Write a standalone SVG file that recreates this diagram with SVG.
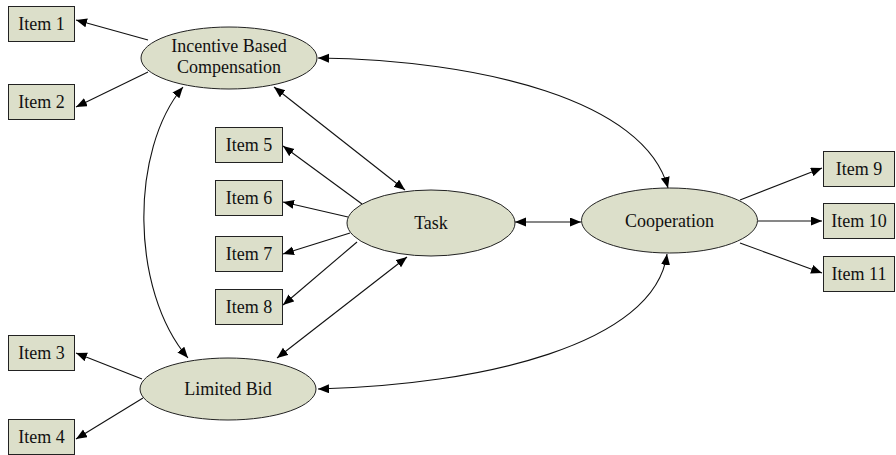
<svg xmlns="http://www.w3.org/2000/svg" width="896" height="455" viewBox="0 0 896 455">
<defs>
<style>
.box{fill:#dcdfca;stroke:#222;stroke-width:1}
.ell{fill:#dcdfca;stroke:#222;stroke-width:1}
text{font-family:"Liberation Serif","Times New Roman",serif;font-size:18px;fill:#111;text-anchor:middle}
.c{fill:none;stroke:#111;stroke-width:1.1}
</style>
<marker id="ah" markerUnits="userSpaceOnUse" markerWidth="12" markerHeight="10" refX="11" refY="4.5" orient="auto-start-reverse">
<path d="M0,0 L11,4.5 L0,9 z" fill="#000"/>
</marker>
</defs>
<rect width="896" height="455" fill="#fff"/>
<g id="connectors">
<line class="c" x1="148" y1="40" x2="76" y2="20" marker-end="url(#ah)"/>
<line class="c" x1="148" y1="72" x2="76" y2="107" marker-end="url(#ah)"/>
<path class="c" d="M318,58 C480,60 645,100 668,188" marker-start="url(#ah)" marker-end="url(#ah)"/>
<line class="c" x1="274" y1="87" x2="405" y2="190" marker-start="url(#ah)" marker-end="url(#ah)"/>
<path class="c" d="M183,87 C130,150 130,290 188,358" marker-start="url(#ah)" marker-end="url(#ah)"/>
<line class="c" x1="362" y1="204" x2="283" y2="146" marker-end="url(#ah)"/>
<line class="c" x1="348" y1="217" x2="283" y2="202" marker-end="url(#ah)"/>
<line class="c" x1="350" y1="233" x2="283" y2="254" marker-end="url(#ah)"/>
<line class="c" x1="357" y1="242" x2="283" y2="305" marker-end="url(#ah)"/>
<line class="c" x1="407" y1="257" x2="277" y2="358" marker-start="url(#ah)" marker-end="url(#ah)"/>
<line class="c" x1="515" y1="222" x2="581" y2="222" marker-start="url(#ah)" marker-end="url(#ah)"/>
<path class="c" d="M318,389 C480,385 655,345 667,254" marker-start="url(#ah)" marker-end="url(#ah)"/>
<line class="c" x1="142" y1="379" x2="76" y2="353" marker-end="url(#ah)"/>
<line class="c" x1="143" y1="398" x2="76" y2="439" marker-end="url(#ah)"/>
<line class="c" x1="740" y1="200" x2="822" y2="168" marker-end="url(#ah)"/>
<line class="c" x1="758" y1="221" x2="822" y2="221" marker-end="url(#ah)"/>
<line class="c" x1="740" y1="243" x2="822" y2="273" marker-end="url(#ah)"/>
</g>
<g id="item1"><rect class="box" x="8.5" y="6.5" width="66" height="35"/><text x="41.5" y="30">Item 1</text></g>
<g id="item2"><rect class="box" x="8.5" y="84.5" width="66" height="35"/><text x="41.5" y="108">Item 2</text></g>
<g id="item3"><rect class="box" x="8.5" y="335.5" width="66" height="35"/><text x="41.5" y="359">Item 3</text></g>
<g id="item4"><rect class="box" x="8.5" y="419.5" width="66" height="35"/><text x="41.5" y="443">Item 4</text></g>
<g id="item5"><rect class="box" x="215.5" y="127.5" width="67" height="35"/><text x="249" y="151">Item 5</text></g>
<g id="item6"><rect class="box" x="215.5" y="180.5" width="67" height="35"/><text x="249" y="204">Item 6</text></g>
<g id="item7"><rect class="box" x="215.5" y="236.5" width="67" height="35"/><text x="249" y="260">Item 7</text></g>
<g id="item8"><rect class="box" x="215.5" y="289.5" width="67" height="35"/><text x="249" y="313">Item 8</text></g>
<g id="item9"><rect class="box" x="823.5" y="151.5" width="71" height="35"/><text x="859" y="175">Item 9</text></g>
<g id="item10"><rect class="box" x="823.5" y="203.5" width="71" height="35"/><text x="859" y="227">Item 10</text></g>
<g id="item11"><rect class="box" x="823.5" y="256.5" width="71" height="35"/><text x="859" y="280">Item 11</text></g>
<g id="incentive"><ellipse class="ell" cx="229" cy="58" rx="88" ry="31"/><text x="229" y="52">Incentive Based</text><text x="229" y="73">Compensation</text></g>
<g id="task"><ellipse class="ell" cx="431" cy="223" rx="84" ry="33"/><text x="431" y="229">Task</text></g>
<g id="cooperation"><ellipse class="ell" cx="669.5" cy="220.5" rx="88" ry="32.5"/><text x="669.5" y="227">Cooperation</text></g>
<g id="limitedbid"><ellipse class="ell" cx="228" cy="389" rx="88" ry="31"/><text x="228" y="395">Limited Bid</text></g>
</svg>
